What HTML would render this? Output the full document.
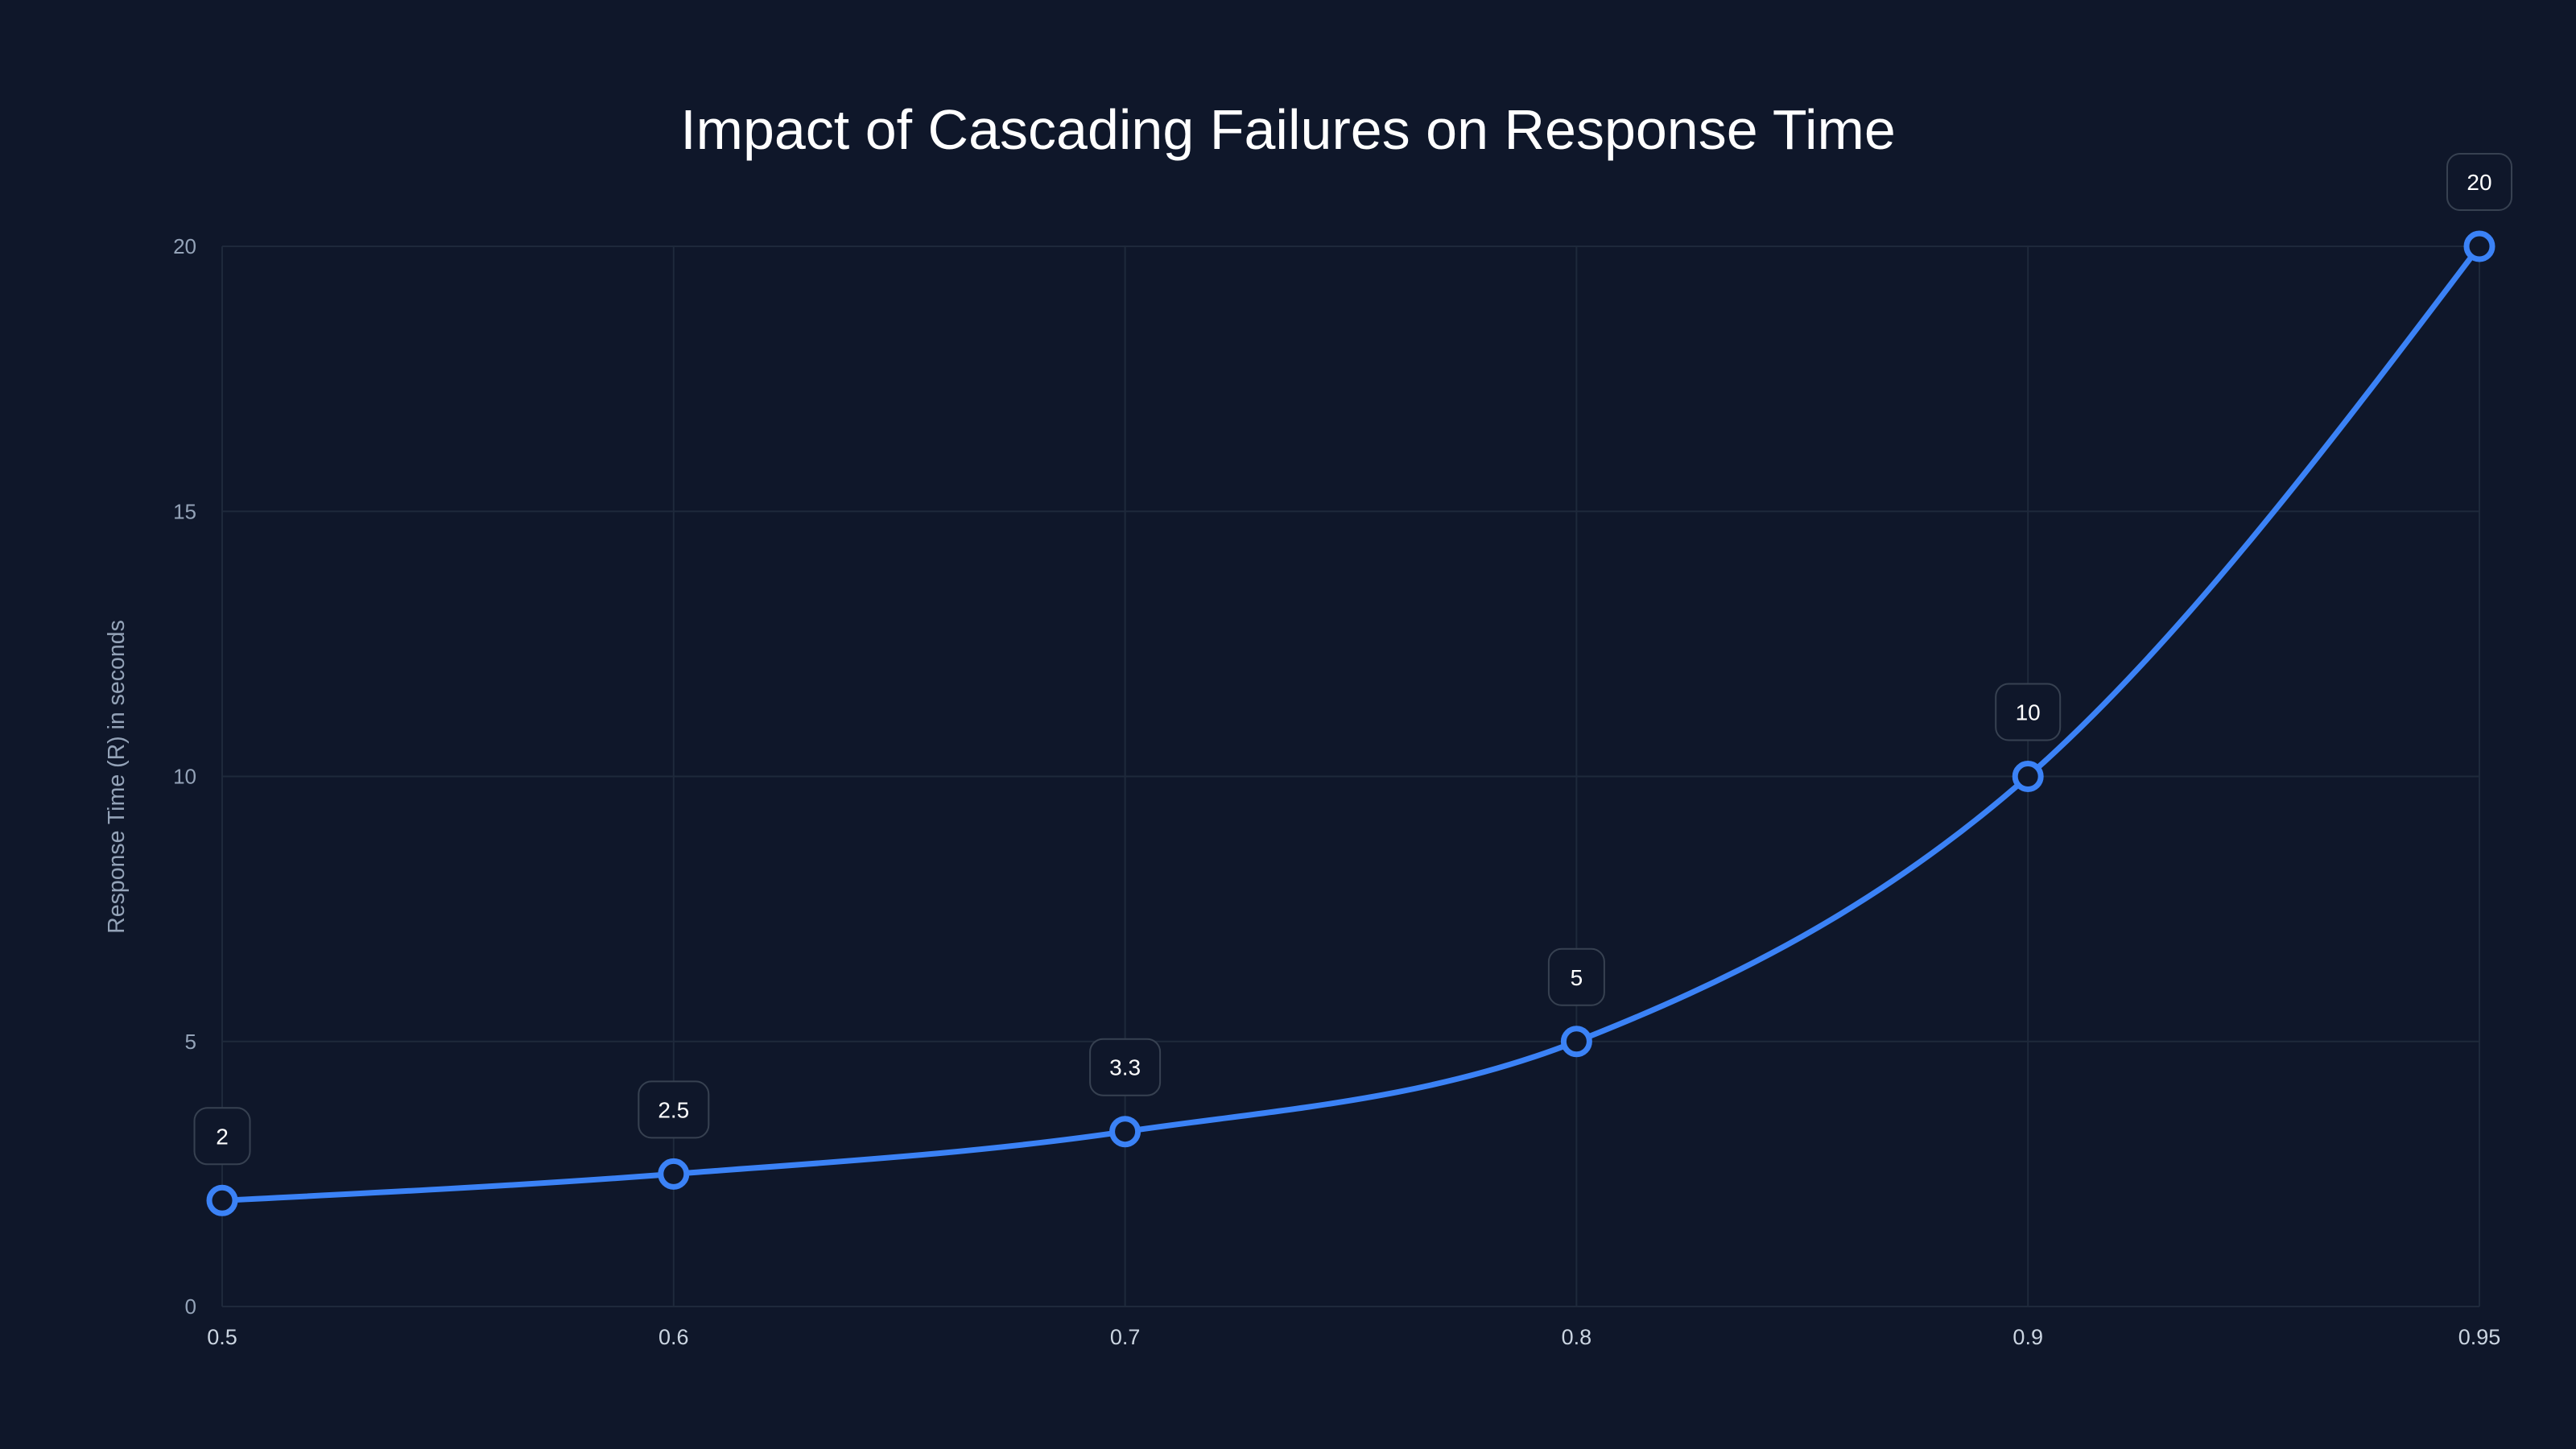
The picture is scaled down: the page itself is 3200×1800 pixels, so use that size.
<!DOCTYPE html>
<html><head><meta charset="utf-8"><style>
html,body{margin:0;padding:0;background:#0f172a;}
svg{display:block;font-family:"Liberation Sans",sans-serif;}
</style></head><body>
<svg id="chart" width="3200" height="1800" viewBox="0 0 3200 1800">
<rect width="3200" height="1800" fill="#0f172a"/>
<text x="1600" y="185" text-anchor="middle" font-size="70" fill="#ffffff">Impact of Cascading Failures on Response Time</text>
<text transform="translate(154,965) rotate(-90)" text-anchor="middle" font-size="28.5" fill="#94a3b8">Response Time (R) in seconds</text>
<g id="grid"></g><g id="axes"></g><g id="series"></g><g id="labels"></g>
</svg>
<script>
const categories = ["0.5","0.6","0.7","0.8","0.9","0.95"];
const values = [2, 2.5, 3.3, 5, 10, 20];
const valueLabels = ["2","2.5","3.3","5","10","20"];
const yTicks = [0,5,10,15,20];

const L=276,R=3080,T=306,B=1623,yMax=20;
const NS="http://www.w3.org/2000/svg";
const xs=i=>L+(R-L)*i/(categories.length-1);
const ys=v=>B-(B-T)*v/yMax;
function mk(tag,attrs,parent){const e=document.createElementNS(NS,tag);for(const k in attrs)e.setAttribute(k,attrs[k]);parent.appendChild(e);return e;}
const grid=document.getElementById('grid'),axes=document.getElementById('axes'),series=document.getElementById('series'),labels=document.getElementById('labels');

yTicks.forEach(t=>{
  const l=mk('line',{x1:L,x2:R,y1:ys(t),y2:ys(t),stroke:'#1e293b','stroke-width':2},grid);
  
  
  const tx=mk('text',{x:L-32,y:ys(t)+9,'text-anchor':'end','font-size':26,fill:'#94a3b8'},axes);
  tx.textContent=t;
  
  
});
categories.forEach((c,i)=>{
  const l=mk('line',{x1:xs(i),x2:xs(i),y1:T,y2:B,stroke:'#1e293b','stroke-width':2},grid);
  
  
  const tx=mk('text',{x:xs(i),y:B+47,'text-anchor':'middle','font-size':27,fill:'#cbd5e1'},axes);
  tx.textContent=c;
  
  
});

const px=values.map((v,i)=>xs(i)),py=values.map(v=>ys(v));
const n=px.length,d=[],m=[];
for(let i=0;i<n-1;i++)d.push((py[i+1]-py[i])/(px[i+1]-px[i]));
for(let i=0;i<n;i++){
  if(i===0)m.push(d[0]);else if(i===n-1)m.push(d[n-2]);
  else{ if(d[i-1]*d[i]<=0)m.push(0);else{const h0=px[i]-px[i-1],h1=px[i+1]-px[i];
    const p=(d[i-1]*h1+d[i]*h0)/(h0+h1);
    m.push((Math.sign(d[i-1])+Math.sign(d[i]))*Math.min(Math.abs(d[i-1]),Math.abs(d[i]),0.5*Math.abs(p)));}}
}
m[0]=(3*d[0]-m[1])/2; m[n-1]=(3*d[n-2]-m[n-2])/2;
let path=`M${px[0]},${py[0]}`;
for(let i=0;i<n-1;i++){const h=(px[i+1]-px[i])/3;
  path+=` C${px[i]+h},${py[i]+m[i]*h} ${px[i+1]-h},${py[i+1]-m[i+1]*h} ${px[i+1]},${py[i+1]}`;}
const line=mk('path',{d:path,fill:'none',stroke:'#3b82f6','stroke-width':7,'stroke-linecap':'round'},series);



values.forEach((v,i)=>{
  const c=mk('circle',{cx:xs(i),cy:ys(v),r:16,fill:'#0f172a',stroke:'#3b82f6','stroke-width':7},series);
  
  
  const txt=valueLabels[i];
  const w=txt.length<=1?69:(txt.length===2?80:87);
  const cy=ys(v)-80;
  const r=mk('rect',{x:xs(i)-w/2,y:cy-35,width:w,height:70,rx:16,fill:'#0f172a',stroke:'#374151','stroke-width':2},labels);
  
  
  const t=mk('text',{x:xs(i),y:cy+10,'text-anchor':'middle','font-size':28,fill:'#ffffff'},labels);
  t.textContent=txt;
  
  
});
</script>
</body></html>
